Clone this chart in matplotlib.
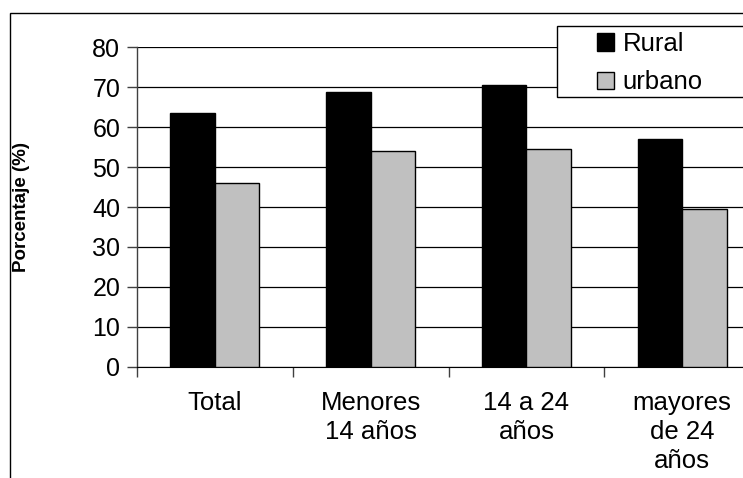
import matplotlib.pyplot as plt
import numpy as np
from matplotlib.patches import Rectangle

categories = ["Total", "Menores\n14 años", "14 a 24\naños", "mayores\nde 24\naños"]
rural = [63.4, 68.7, 70.6, 56.9]
urbano = [46.1, 54.1, 54.5, 39.6]
yticks = [0, 10, 20, 30, 40, 50, 60, 70, 80]

plt.rcParams['font.family'] = ['Liberation Sans', 'DejaVu Sans']

W, H = 743, 478
fig = plt.figure(figsize=(W / 100, H / 100), dpi=100)

# outer frame of the original chart (runs off the right and bottom edges)
fig.patches.append(Rectangle((10 / W, -0.1), 1.2, 1 - 13 / H + 0.1,
                             transform=fig.transFigure, fill=False,
                             edgecolor='black', linewidth=1.0))

ax = fig.add_axes([137 / W, 1 - 367 / H, (760 - 137) / W, (367 - 47) / H])

x = np.arange(len(categories))
width = 0.285
ax.bar(x - width / 2, rural, width, color='black', edgecolor='black',
       linewidth=1.0, label='Rural', zorder=3)
ax.bar(x + width / 2, urbano, width, color='#c0c0c0', edgecolor='black',
       linewidth=1.0, label='urbano', zorder=3)

ax.set_xlim(-0.5, len(categories) - 0.5)
ax.set_ylim(0, 80)
ax.set_yticks(yticks)
ax.tick_params(axis='y', labelsize=18, length=7, width=1, color='#404040', pad=5)

ax.set_xticks(x)
ax.set_xticklabels(categories, fontsize=18.5, linespacing=1.27, va='top')
ax.tick_params(axis='x', which='major', length=0, pad=17)
ax.set_xticks(np.arange(-0.5, len(categories), 1.0), minor=True)
ax.tick_params(axis='x', which='minor', length=7, width=1, color='#404040')

ax.grid(True, axis='y', color='black', linewidth=0.9, zorder=0)
ax.set_axisbelow(True)
for side in ['top', 'right']:
    ax.spines[side].set_visible(False)
ax.spines['left'].set_color('#404040')
ax.spines['bottom'].set_color('black')
ax.spines['left'].set_linewidth(1.0)

ax.set_ylabel('Porcentaje (%)', fontsize=13.5, fontweight='bold')
ax.yaxis.set_label_coords(-107 / (760 - 137), 0.5)

# legend box as in the original: white frame running off the right edge
box = Rectangle((557 / W, 1 - 97 / H), 0.5, (97 - 26) / H,
                transform=fig.transFigure, facecolor='white',
                edgecolor='black', linewidth=1.0, zorder=5, clip_on=False)
ax.add_patch(box)
leg = ax.legend(loc='upper left', bbox_to_anchor=(597 / W, 1 - 32 / H),
                bbox_transform=fig.transFigure, fontsize=18.5, frameon=False,
                borderpad=0, handlelength=0.65, handleheight=0.65,
                handletextpad=0.35, labelspacing=0.55, borderaxespad=0)
leg.set_zorder(6)

fig.savefig("out.png", dpi=100)
